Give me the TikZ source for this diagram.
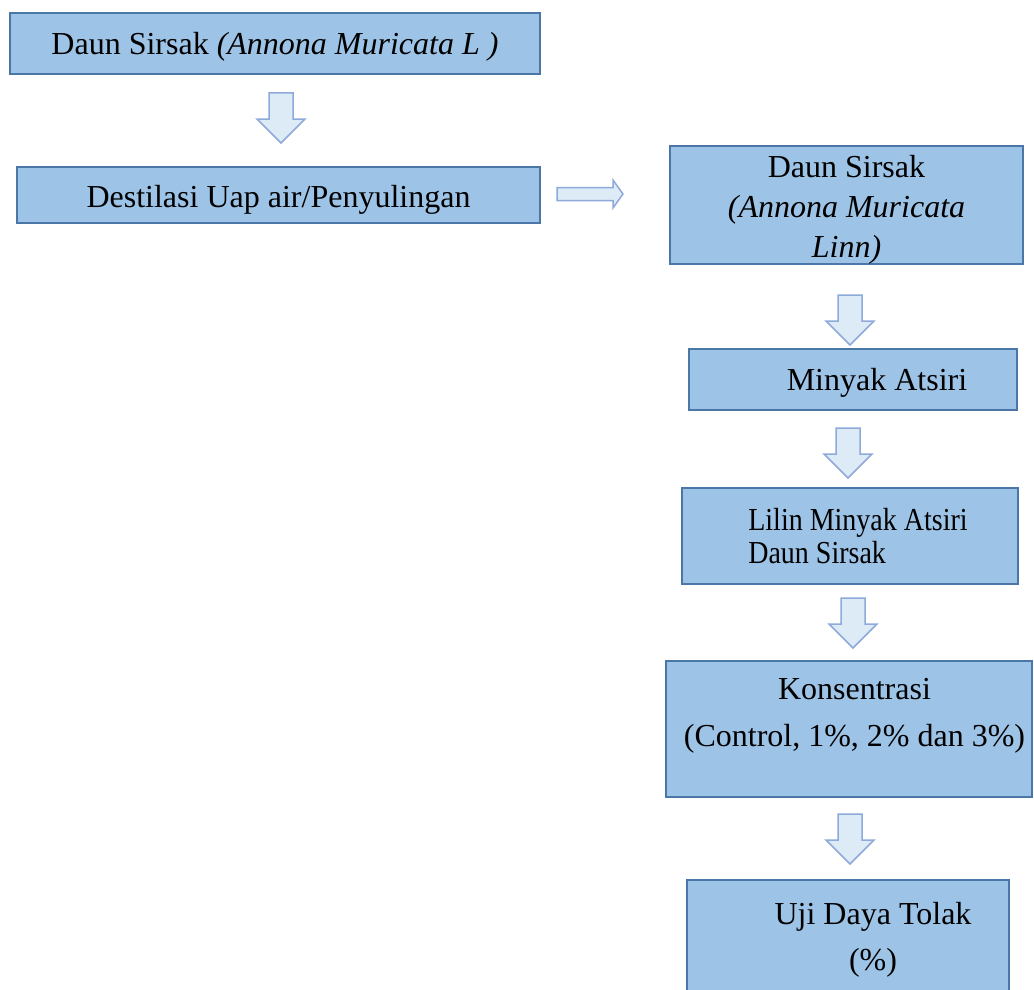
\documentclass[tikz,border=0pt]{standalone}
\usepackage{fontspec}
\setmainfont{Liberation Serif}
\newfontfamily\narrowserif[FakeStretch=0.875]{Liberation Serif}
\usepackage{tikz}
\usetikzlibrary{positioning,calc}

\definecolor{boxfill}{HTML}{9DC3E6}
\definecolor{boxline}{HTML}{4A76A8}
\definecolor{arrfill}{HTML}{DDEBF7}
\definecolor{arrline}{HTML}{8EAADB}

\tikzset{
    box/.style={draw=boxline, fill=boxfill, line width=2pt, inner sep=0pt, align=center, font=\fontsize{32}{40}\selectfont},
    downarr/.pic={\draw [arrline, line width=1.5pt, fill=arrfill, line join=miter] (-12,-25) -- (12,-25) -- (12,1) -- (24,1) -- (0,25) -- (-24,1) -- (-12,1) -- cycle;},
    rightarr/.pic={\draw [arrline, line width=1.5pt, fill=arrfill, line join=miter] (-33,-6.5) -- (23,-6.5) -- (23,-14) -- (33,0) -- (23,14) -- (23,6.5) -- (-33,6.5) -- cycle;}
}

\begin{document}
\begin{tikzpicture}[x=1pt, y=-1pt]
    \useasboundingbox [fill=white] (0,0) rectangle (1034,990);
    % left column
    \node (leaf) [box, minimum width=530, minimum height=61] at (275,43.5) {\rule{0pt}{29pt}Daun Sirsak \textit{(Annona Muricata L )}};
    \node (distil) [box, minimum width=523, minimum height=56] at (278.5,195) {\rule{0pt}{32pt}Destilasi Uap air/Penyulingan};
    % right column
    \node (leaf2) [box, minimum width=353, minimum height=116] at (846.5,205) {\rule{0pt}{32pt}Daun Sirsak\\\textit{(Annona Muricata}\\\textit{Linn)}};
    \node (oil) [box, minimum width=328, minimum height=61] at (853,379.5) {\rule{0pt}{28pt}\hspace*{48pt}Minyak Atsiri};
    \node (candle) [box, minimum width=336, minimum height=96, align=left, font=\narrowserif\fontsize{32}{33}\selectfont] at (850,536) {\hspace*{16pt}Lilin Minyak Atsiri\\\hspace*{16pt}Daun Sirsak};
    \node (conc) [box, minimum width=366, minimum height=136, font=\fontsize{32}{47}\selectfont] at (849,729) {\hspace*{11pt}Konsentrasi\\\hspace*{11pt}(Control, 1\%, 2\% dan 3\%)\\[-14pt]\mbox{}};
    \node (test) [box, minimum width=322, minimum height=120, font=\fontsize{32}{46}\selectfont] at (848,940) {\hspace*{50pt}Uji Daya Tolak\\\hspace*{50pt}(\%)};
    % block arrows
    \pic at (281,118) {downarr};
    \pic at (590,194) {rightarr};
    \pic at (850,320) {downarr};
    \pic at (848,453) {downarr};
    \pic at (853,623) {downarr};
    \pic at (850,839) {downarr};
\end{tikzpicture}
\end{document}
